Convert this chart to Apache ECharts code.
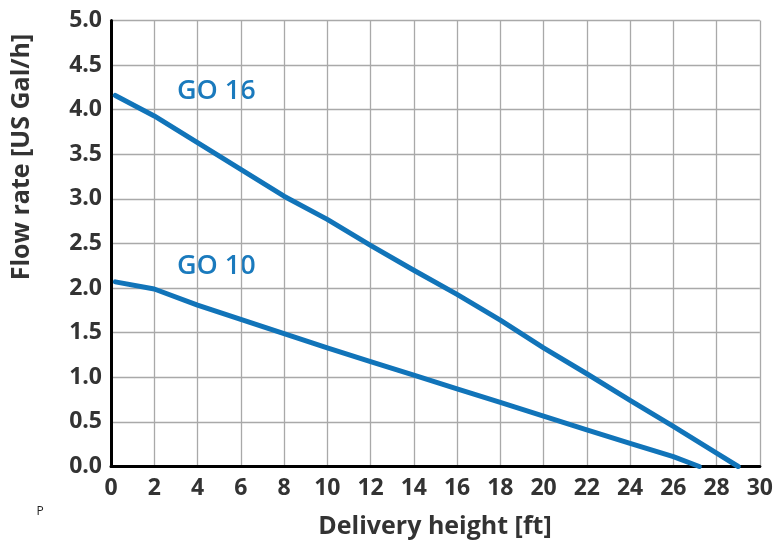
<!DOCTYPE html>
<html>
<head>
<meta charset="utf-8">
<script src="https://cdn.jsdelivr.net/npm/echarts@6/dist/echarts.min.js"></script>
<style>
html,body{margin:0;padding:0;background:#fff;}
#chart{width:776px;height:544px;}
</style>
</head>
<body>
<div id="chart"></div>
<script>
// Data
const go16Height = [0.2, 2, 4, 6, 8, 10, 12, 14, 16, 18, 20, 22, 24, 26, 28, 29.0];
const go16Flow   = [4.16, 3.93, 3.63, 3.33, 3.03, 2.77, 2.48, 2.20, 1.93, 1.64, 1.33, 1.04, 0.74, 0.45, 0.15, 0.0];
const go10Height = [0.2, 2, 4, 6, 8, 10, 12, 14, 16, 18, 20, 22, 24, 26, 27.2];
const go10Flow   = [2.07, 1.99, 1.81, 1.65, 1.49, 1.33, 1.175, 1.025, 0.87, 0.72, 0.565, 0.41, 0.26, 0.11, 0.0];
const seriesNames = ['GO 16', 'GO 10'];
const xTitle = 'Delivery height [ft]';
const yTitle = 'Flow rate [US Gal/h]';

const pair = (xs, ys) => xs.map((x, i) => [x, ys[i]]);
const blue = '#1174b9';
const textColor = '#333333';
const font = '"Open Sans", "Noto Sans", sans-serif';

const chart = echarts.init(document.getElementById('chart'), null, {renderer: 'canvas'});
chart.setOption({
  animation: false,
  backgroundColor: '#ffffff',
  grid: {left: 111, right: 14, top: 20.5, bottom: 77.5, containLabel: false},
  xAxis: {
    type: 'value', min: 0, max: 30, interval: 2,
    axisLine: {show: true, onZero: false, lineStyle: {color: '#000', width: 3}},
    axisTick: {show: false},
    axisLabel: {color: textColor, fontFamily: font, fontWeight: 700, fontSize: 23, margin: 10},
    splitLine: {show: true, lineStyle: {color: '#a9a9a9', width: 1.3}}
  },
  yAxis: {
    type: 'value', min: 0, max: 5, interval: 0.5,
    axisLine: {show: true, onZero: false, lineStyle: {color: '#000', width: 3}},
    axisTick: {show: false},
    axisLabel: {color: textColor, fontFamily: font, fontWeight: 700, fontSize: 23, margin: 9,
      formatter: v => v.toFixed(1)},
    splitLine: {show: true, lineStyle: {color: '#a9a9a9', width: 1.3}}
  },
  series: [
    {name: seriesNames[0], type: 'line', data: pair(go16Height, go16Flow), smooth: false,
     showSymbol: false, lineStyle: {color: blue, width: 5, join: 'round', cap: 'round'}, z: 5},
    {name: seriesNames[1], type: 'line', data: pair(go10Height, go10Flow), smooth: false,
     showSymbol: false, lineStyle: {color: blue, width: 5, join: 'round', cap: 'round'}, z: 5}
  ],
  graphic: [
    {type: 'text', left: 177, top: 78, style: {text: seriesNames[0], fill: '#1a7abd', font: '600 27px ' + font}},
    {type: 'text', left: 177, top: 253, style: {text: seriesNames[1], fill: '#1a7abd', font: '600 27px ' + font}},
    {type: 'text', x: 435, y: 527, style: {text: xTitle, fill: textColor, font: '700 25px ' + font,
      textAlign: 'center', textVerticalAlign: 'middle'}},
    {type: 'text', x: 22, y: 157, rotation: Math.PI / 2, style: {text: yTitle, fill: textColor,
      font: '700 25px ' + font, textAlign: 'center', textVerticalAlign: 'middle'}},
    {type: 'text', x: 40, y: 512, style: {text: 'P', fill: '#222', font: '12px ' + font,
      textAlign: 'center', textVerticalAlign: 'middle'}}
  ]
});
</script>
</body>
</html>
